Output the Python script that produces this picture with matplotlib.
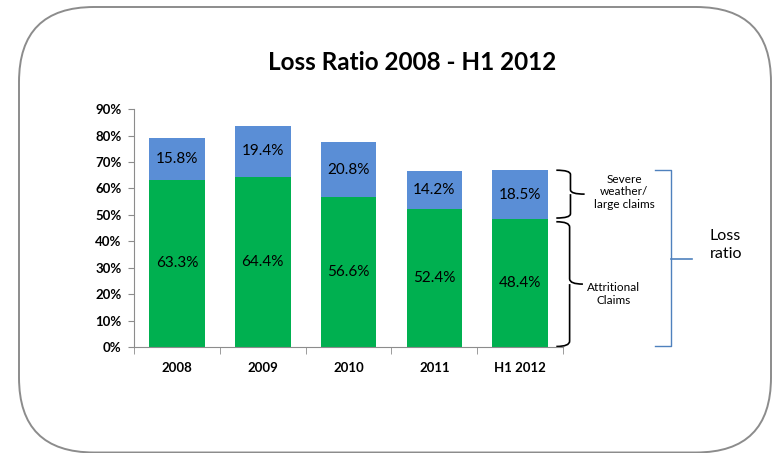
import matplotlib
import numpy as np
import matplotlib.pyplot as plt
from matplotlib.patches import FancyBboxPatch, PathPatch
from matplotlib.path import Path
from matplotlib.ticker import PercentFormatter

matplotlib.use('Agg')

plt.rcParams['font.family'] = ['Lato', 'DejaVu Sans']

# loss ratio split by year, in percent
periods = ['2008', '2009', '2010', '2011', 'H1 2012']
attritional = [63.3, 64.4, 56.6, 52.4, 48.4]
severe = [15.8, 19.4, 20.8, 14.2, 18.5]
y_ticks = [0, 10, 20, 30, 40, 50, 60, 70, 80, 90]

GREEN = '#00B050'
BLUE = '#5A8ED6'
GREY = '#8C8C8C'


def curly_brace(x0, y_top, y_bot, width, r):
    """Right-facing curly brace between y_top and y_bot, starting at x0."""
    xm = x0 + width * 0.5
    xt = x0 + width
    ym = (y_top + y_bot) / 2
    verts = [
        (x0, y_top), (xm, y_top), (xm, y_top - r),
        (xm, ym + r),
        (xm, ym), (xt, ym),
        (xm, ym), (xm, ym - r),
        (xm, y_bot + r),
        (xm, y_bot), (x0, y_bot),
    ]
    codes = [
        Path.MOVETO, Path.CURVE3, Path.CURVE3,
        Path.LINETO,
        Path.CURVE3, Path.CURVE3,
        Path.MOVETO, Path.CURVE3,
        Path.LINETO,
        Path.CURVE3, Path.CURVE3,
    ]
    return Path(verts, codes)


fig = plt.figure(figsize=(7.72, 4.53), dpi=100)

# rounded frame around the whole chart
frame = FancyBboxPatch((0.19, 0.005), 7.52, 4.455,
                       boxstyle='round,pad=0,rounding_size=0.75',
                       transform=fig.dpi_scale_trans,
                       facecolor='none', edgecolor=GREY, linewidth=1.4)
fig.patches.append(frame)

fig.text(0.534, 0.862, 'Loss Ratio 2008 - H1 2012', ha='center', va='center',
         fontsize=17.5, fontweight='bold')

ax = fig.add_axes([0.1735, 0.234, 0.556, 0.525])
ax.patch.set_alpha(0)

x = np.arange(len(periods))
ax.bar(x, attritional, width=0.65, color=GREEN, zorder=2)
ax.bar(x, severe, width=0.65, bottom=attritional, color=BLUE, zorder=2)

for i in range(len(periods)):
    ax.text(x[i], attritional[i] / 2, f'{attritional[i]:.1f}%',
            ha='center', va='center', fontsize=11)
    ax.text(x[i], attritional[i] + severe[i] / 2, f'{severe[i]:.1f}%',
            ha='center', va='center', fontsize=11)

ax.set_xlim(-0.5, len(periods) - 0.5)
ax.set_ylim(0, 90)
ax.set_yticks(y_ticks)
ax.yaxis.set_major_formatter(PercentFormatter(decimals=0))

ax.set_xticks(x)
ax.set_xticklabels(periods)
ax.set_xticks(np.arange(-0.5, len(periods)), minor=True)
ax.tick_params(axis='x', which='major', length=0, pad=11)
ax.tick_params(axis='x', which='minor', length=5, color=GREY)
ax.tick_params(axis='y', length=4, color=GREY, pad=5)
for lbl in ax.get_xticklabels() + ax.get_yticklabels():
    lbl.set_fontweight('bold')
    lbl.set_fontsize(9.5)

for side in ['top', 'right']:
    ax.spines[side].set_visible(False)
for side in ['left', 'bottom']:
    ax.spines[side].set_color(GREY)

# braces next to the last bar
last = len(periods) - 1
top_total = attritional[last] + severe[last]
b1 = curly_brace(4.42, top_total, attritional[last] + 0.4, 0.33, 1.6)
b2 = curly_brace(4.42, attritional[last] - 1.0, 0.2, 0.31, 2.0)
for b in (b1, b2):
    ax.add_patch(PathPatch(b, facecolor='none', edgecolor='black',
                           linewidth=1.2, clip_on=False))

ax.text(5.21, 58.7, 'Severe\nweather/\nlarge claims', ha='center', va='center',
        fontsize=8.5, linespacing=1.2)
ax.text(5.09, 20.0, 'Attritional\nClaims', ha='center', va='center',
        fontsize=8.5, linespacing=1.2)

# bracket spanning the whole loss ratio
bx0, bx1, bx2 = 5.57, 5.76, 6.0
ax.plot([bx0, bx1, bx1, bx0], [top_total, top_total, 0.2, 0.2],
        color='#4F81BD', linewidth=1, clip_on=False)
ax.plot([bx1, bx2], [top_total / 2, top_total / 2],
        color='#4F81BD', linewidth=1.2, clip_on=False)
ax.text(6.21, 38.6, 'Loss\nratio', ha='left', va='center', fontsize=11.5,
        linespacing=1.3)

fig.savefig('out.png', dpi=100)
